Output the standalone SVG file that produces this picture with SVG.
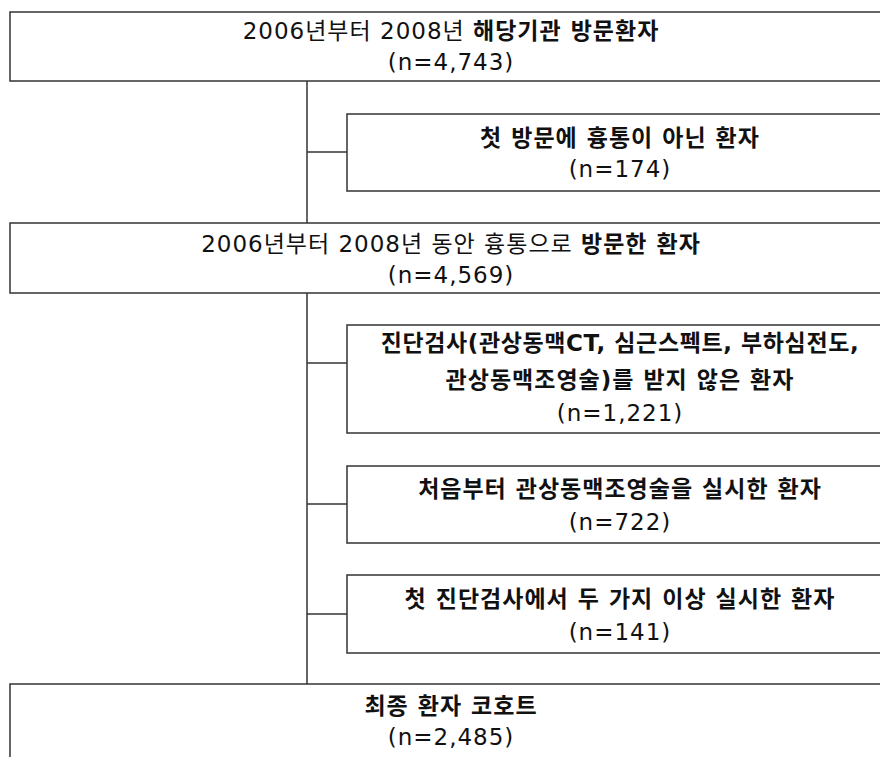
<svg xmlns="http://www.w3.org/2000/svg" width="880" height="757" viewBox="0 0 880 757">
<style>
.box{fill:#fff;stroke:#333;stroke-width:1.5}
.ln{stroke:#333;stroke-width:1.5;fill:none}
text{font-family:"DejaVu Sans","Noto Sans CJK KR",sans-serif;font-size:23px;letter-spacing:1px;fill:#111;text-anchor:middle}
.b{font-weight:bold}
</style>
<rect width="880" height="757" fill="#fff"/>
<g id="connectors">
<line class="ln" x1="307" y1="81" x2="307" y2="223"/>
<line class="ln" x1="307" y1="152" x2="347" y2="152"/>
<line class="ln" x1="307" y1="293" x2="307" y2="684"/>
<line class="ln" x1="307" y1="363" x2="347" y2="363"/>
<line class="ln" x1="307" y1="504" x2="347" y2="504"/>
<line class="ln" x1="307" y1="614" x2="347" y2="614"/>
</g>
<g id="n1">
<rect class="box" x="10" y="12" width="882" height="69"/>
<text x="451" y="39">2006년부터 2008년 <tspan class="b">해당기관 방문환자</tspan></text>
<text x="451" y="70">(n=4,743)</text>
</g>
<g id="n2">
<rect class="box" x="347" y="114" width="546" height="77"/>
<text x="620" y="146" class="b">첫 방문에 흉통이 아닌 환자</text>
<text x="620" y="177">(n=174)</text>
</g>
<g id="n3">
<rect class="box" x="10" y="223" width="882" height="70"/>
<text x="451" y="252">2006년부터 2008년 동안 흉통으로 <tspan class="b">방문한 환자</tspan></text>
<text x="451" y="283">(n=4,569)</text>
</g>
<g id="n4">
<rect class="box" x="347" y="325" width="546" height="108"/>
<text x="620" y="351" class="b" style="letter-spacing:0.6px">진단검사(관상동맥CT, 심근스펙트, 부하심전도,</text>
<text x="620" y="388" class="b">관상동맥조영술)를 받지 않은 환자</text>
<text x="620" y="421">(n=1,221)</text>
</g>
<g id="n5">
<rect class="box" x="347" y="466" width="546" height="77"/>
<text x="620" y="497" class="b">처음부터 관상동맥조영술을 실시한 환자</text>
<text x="620" y="530">(n=722)</text>
</g>
<g id="n6">
<rect class="box" x="347" y="575" width="546" height="78"/>
<text x="620" y="607" class="b">첫 진단검사에서 두 가지 이상 실시한 환자</text>
<text x="620" y="640">(n=141)</text>
</g>
<g id="n7">
<rect class="box" x="10" y="684" width="882" height="90"/>
<text x="451" y="714" class="b">최종 환자 코호트</text>
<text x="451" y="745">(n=2,485)</text>
</g>
</svg>
